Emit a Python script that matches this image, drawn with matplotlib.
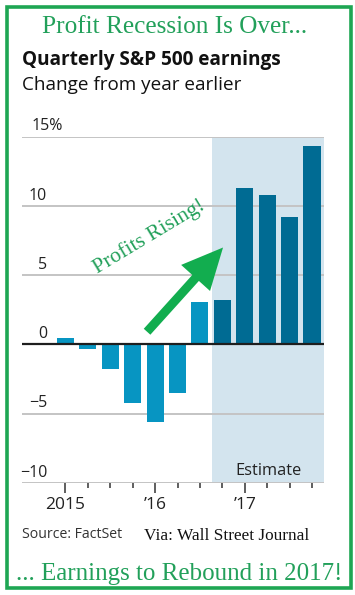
import matplotlib
matplotlib.use("Agg")
import matplotlib.pyplot as plt
from matplotlib.patches import Rectangle
from matplotlib import transforms

# ---- data ----
quarters = ["Q1 15", "Q2 15", "Q3 15", "Q4 15", "Q1 16", "Q2 16", "Q3 16",
            "Q4 16", "Q1 17", "Q2 17", "Q3 17", "Q4 17"]
earnings_change = [0.5, -0.3, -1.8, -4.2, -5.6, -3.5, 3.1, 3.2, 11.3, 10.8, 9.2, 14.35]
is_estimate = [False] * 7 + [True] * 5
y_ticks = [-10, -5, 0, 5, 10, 15]
y_tick_labels = ["\u221210", "\u22125", "0", "5", "10", "15%"]
x_major_pos = [0, 4, 8]
x_major_labels = ["2015", "\u201916", "\u201917"]

W, H = 355, 595
fig = plt.figure(figsize=(W / 100, H / 100), dpi=100)
fig.patch.set_facecolor("white")
renderer = fig.canvas.get_renderer()


def fx(px):
    return px / W


def fy(py):
    return 1 - py / H


def fit(t, width_px):
    """Scale a text's font size so its rendered width matches width_px."""
    for _ in range(3):
        w = t.get_window_extent(renderer).width
        t.set_fontsize(t.get_fontsize() * width_px / w)
    return t


ax = fig.add_axes([fx(22), fy(483), (324 - 22) / W, (483 - 136.7) / H])
ax.set_xlim(-1.94, 11.535)
ax.set_ylim(-10, 15)
for s in ax.spines.values():
    s.set_visible(False)

light = "#0795c2"
dark = "#006b93"
shade = "#d3e4ee"
green_txt = "#22a05a"
green_arrow = "#12ad4f"
sans = ["Open Sans", "DejaVu Sans"]
serif = ["Liberation Serif", "DejaVu Serif"]

# estimate shading
est_start = is_estimate.index(True)
ax.axvspan(est_start - 0.46, 11.535, color=shade, zorder=0, lw=0)

# gridlines
for v in y_ticks:
    if v == 0:
        continue
    ax.axhline(v, color="#c4c4c4", lw=1.4, zorder=1)
ax.axhline(0, color="#1e1e1e", lw=1.6, zorder=3)

xs = list(range(len(quarters)))
colors = [dark if e else light for e in is_estimate]
ax.bar(xs, earnings_change, width=0.76, color=colors, zorder=2, lw=0)

# y labels right aligned above gridlines
tr = transforms.offset_copy(ax.get_yaxis_transform(), fig=fig, x=0, y=4.5, units="points")
for v, lab in zip(y_ticks, y_tick_labels):
    if lab.endswith("%"):
        ax.text(0.03, v, lab, transform=tr, ha="left", va="baseline",
                fontsize=11.5, color="#222222", family=sans)
    else:
        ax.text(0.083, v, lab, transform=tr, ha="right", va="baseline",
                fontsize=11.5, color="#222222", family=sans)

ax.set_yticks([])
ax.set_xticks(x_major_pos)
ax.set_xticklabels(x_major_labels, family=sans, fontsize=12.5, color="#222222")
ax.set_xticks([x for x in xs if x not in x_major_pos], minor=True)
ax.tick_params(axis="x", which="major", length=7, width=1.1, color="#333333", pad=3)
ax.tick_params(axis="x", which="minor", length=3.6, width=1.1, color="#333333")

fit(ax.text(9.05, -9.1, "Estimate", ha="center", va="center", fontsize=11.5,
            color="#222222", family=sans), 66)

# arrow and annotation
ax.annotate("", xy=(7.03, 7.0), xytext=(3.64, 0.92),
            arrowprops=dict(arrowstyle="simple,head_length=2.95,head_width=2.8,tail_width=0.64",
                            mutation_scale=10, color=green_arrow, lw=0,
                            shrinkA=0, shrinkB=0),
            zorder=5)
pr = ax.text(3.72, 7.8, "Profits Rising!", ha="center", va="center", fontsize=14,
             color=green_txt, family=serif, zorder=5)
fit(pr, 127)
pr.set_rotation(31)
pr.set_rotation_mode("anchor")

# titles
fit(fig.text(fx(175), fy(33.3), "Profit Recession Is Over...", ha="center", va="baseline",
             fontsize=17.5, color=green_txt, family=serif), 264)
fit(fig.text(fx(22), fy(65), "Quarterly S&P 500 earnings", ha="left", va="baseline",
             fontsize=13.5, fontweight="bold", color="#111111", family=sans), 261)
fit(fig.text(fx(22), fy(90), "Change from year earlier", ha="left", va="baseline",
             fontsize=11.5, color="#111111", family=sans), 218)
fit(fig.text(fx(22), fy(537.7), "Source: FactSet", ha="left", va="baseline",
             fontsize=10, color="#333333", family=sans), 100)
fit(fig.text(fx(144), fy(540), "Via: Wall Street Journal", ha="left", va="baseline",
             fontsize=11.5, color="#111111", family=serif), 165)
fit(fig.text(fx(179.5), fy(580), "... Earnings to Rebound in 2017!", ha="center",
             va="baseline", fontsize=16.5, color=green_txt, family=serif), 327)

# green border
fig.patches.append(Rectangle((fx(7), fy(588)), fx(351) - fx(7), fy(6.5) - fy(588),
                             transform=fig.transFigure, fill=False,
                             edgecolor="#1ea653", lw=2.6))

fig.savefig("out.png", dpi=100)
